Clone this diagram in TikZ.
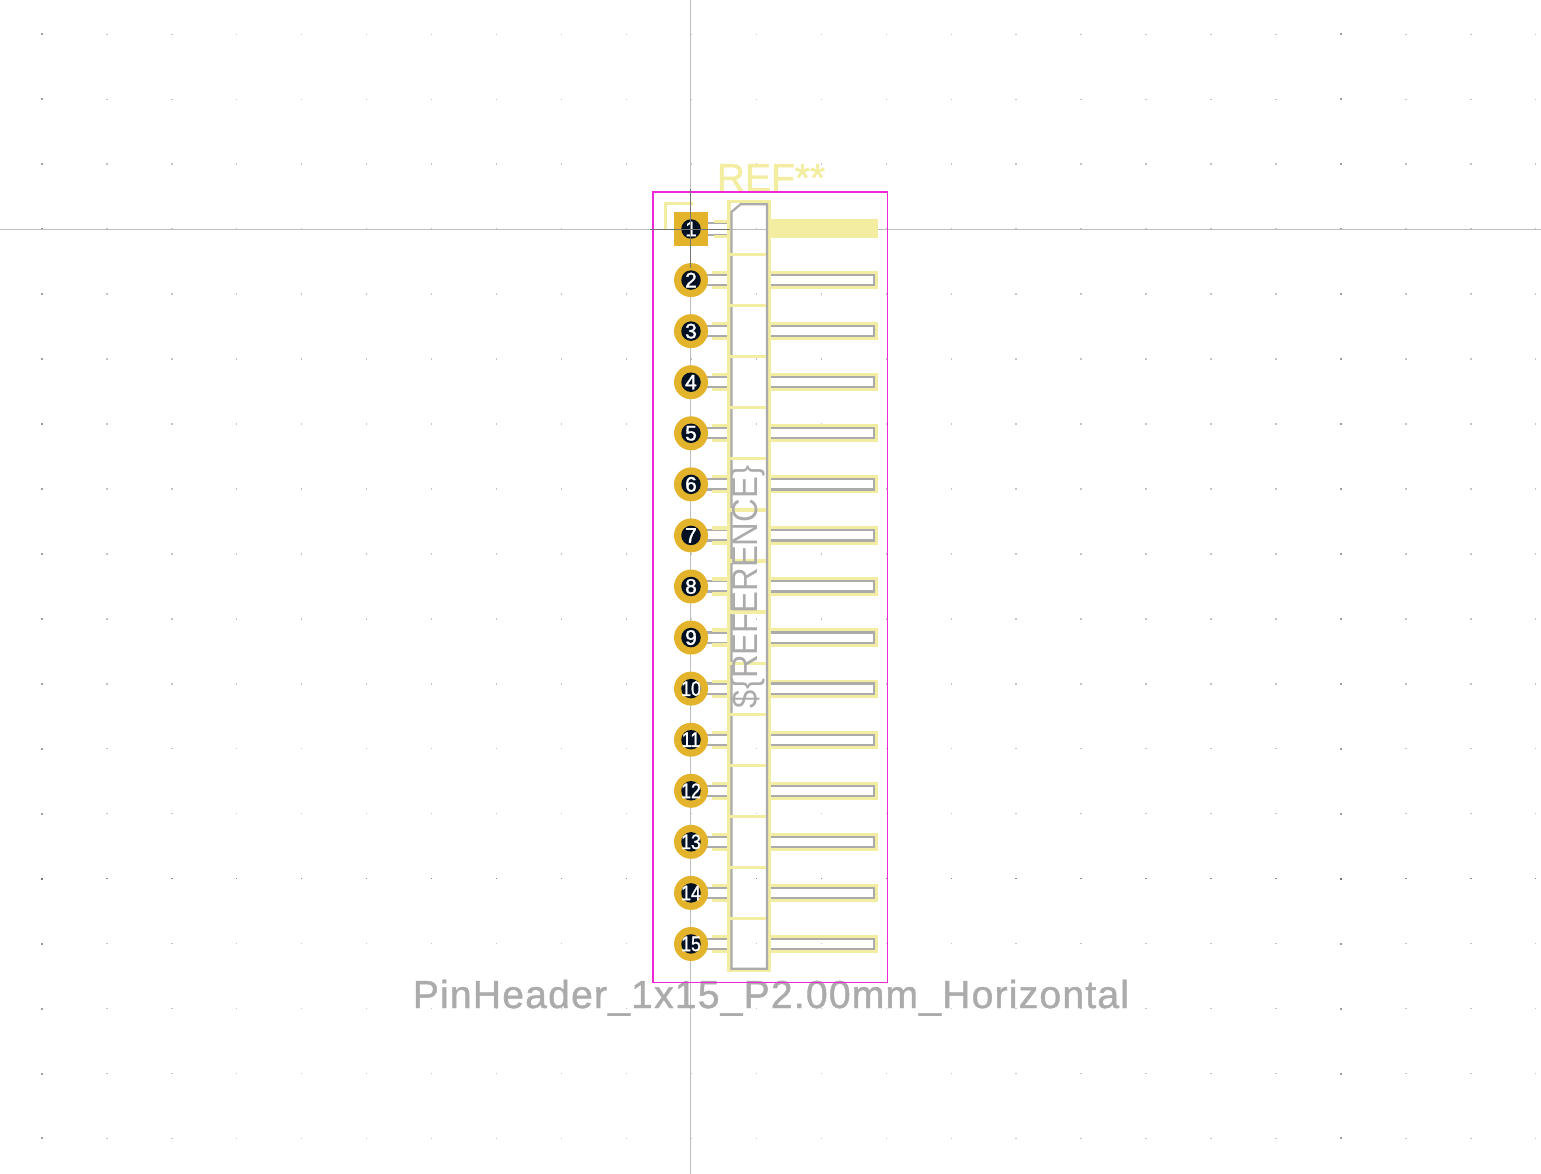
\documentclass[tikz,border=0pt]{standalone}
\usepackage{xcolor}
\usepackage{fontspec}
\usepackage{tikz}
\usetikzlibrary{positioning}
\usetikzlibrary{calc}
\setmainfont{Liberation Sans}
\newfontfamily\strokefont[LetterSpace=3.2,FakeBold=1.2]{Liberation Sans}
\newfontfamily\plainstroke[FakeBold=1.2]{Liberation Sans}
\newfontfamily\numfont[FakeBold=1.5]{Liberation Sans}
\definecolor{padgold}{RGB}{226,179,43}
\definecolor{holeblue}{RGB}{0,16,35}
\definecolor{silkyellow}{RGB}{242,237,161}
\definecolor{fabgrey}{RGB}{171,171,171}
\definecolor{courtpink}{RGB}{240,38,216}
\definecolor{axisgrey}{RGB}{190,190,190}
\definecolor{griddot}{RGB}{195,195,195}
\tikzset{
  silk/.style={draw=silkyellow,line width=3.2pt},
  fab/.style={draw=fabgrey,line width=2.2pt},
  padround/.style={circle,fill=padgold,minimum size=34pt,inner sep=0pt},
  padsquare/.style={rectangle,fill=padgold,minimum size=34pt,inner sep=0pt},
  holedot/.style={circle,fill=holeblue,minimum size=19.5pt,inner sep=0pt},
  padnum/.style={text=white,inner sep=0pt,font=\numfont\fontsize{21}{21}\selectfont},
}
\begin{document}
\begin{tikzpicture}[x=1pt,y=-1pt]
  \useasboundingbox (0,0) rectangle (1541,1174);
  % grid
  \foreach \c in {0,...,23}
    \foreach \r in {0,...,17}
      \fill[griddot] ({41.9+64.95*\c-0.7},{34.3+64.95*\r-0.7}) rectangle ++(1.4,1.4);
  \foreach \c in {0,20}
    \foreach \r in {0,...,17}
      \fill[griddot!80!black] ({41.9+64.95*\c-1},{34.3+64.95*\r-1}) rectangle ++(2,2);
  \foreach \c in {1,...,23}
    \fill[griddot!70!black] ({41.9+64.95*\c-0.7},{34.3+64.95*13-0.7}) rectangle ++(1.4,1.4);
  \foreach \c in {0,20}
    \fill[black!55] ({41.9+64.95*\c-1},{34.3+64.95*13-1}) rectangle ++(2,2);
  % axes
  \draw[axisgrey,line width=1pt] (690.5,0) -- (690.5,1174);
  \draw[axisgrey,line width=1pt] (0,229.5) -- (1541,229.5);
  % text on silk
  \node[text=silkyellow,font=\plainstroke\fontsize{39}{39}\selectfont,inner sep=0pt,anchor=base] (refdes) at (771,191) {REF**};
  % silk pin one mark
  \draw[silk] (665.5,229) -- (665.5,203.5) -- (692.5,203.5);
  % pins
  \foreach \i in {1,...,15} {
    \pgfmathsetmacro{\py}{229+51.07*(\i-1)}
    \ifnum\i=1
      \fill[silkyellow] (770,219) rectangle (878,238);
      \draw[fab] (706,\py-6.2) -- (730,\py-6.2);
      \draw[fab] (706,\py+6.2) -- (730,\py+6.2);
      \draw[silk] (714,\py-7.8) -- (728,\py-7.8);
      \draw[silk] (714,\py+7.8) -- (728,\py+7.8);
    \else
      \draw[fab] (706,\py-5.1) -- (730,\py-5.1);
      \draw[fab] (706,\py+5.1) -- (730,\py+5.1);
      \draw[silk] (712,\py-7.5) -- (728,\py-7.5);
      \draw[silk] (712,\py+7.5) -- (728,\py+7.5);
      \draw[silk] (770,\py-7.5) -- (876.4,\py-7.5) -- (876.4,\py+7.5) -- (770,\py+7.5);
      \draw[fab] (768,\py-5.1) -- (874.1,\py-5.1) -- (874.1,\py+5.1) -- (768,\py+5.1);
    \fi
  }
  % body
  \draw[silk] (729,201.7) -- (769.5,201.7) -- (769.5,970.8) -- (729,970.8) -- cycle;
  \draw[fab] (731.4,212) -- (740.5,204.3) -- (766.9,204.3) -- (766.9,968.8) -- (731.4,968.8) -- cycle;
  \foreach \i in {0,...,13}
    \draw[silk] (729,254.6+51.07*\i) -- (766,254.6+51.07*\i);
  % pads
  \node[padsquare] (pad1) at (691,229) {};
  \node[holedot] (hole1) at (691,229) {};
  \node[padnum] (num1) at (691,229) {1};
  \foreach \i in {2,...,9} {
    \pgfmathsetmacro{\py}{229+51.07*(\i-1)}
    \node[padround] (pad\i) at (691,\py) {};
    \node[holedot] (hole\i) at (691,\py) {};
    \node[padnum] (num\i) at (691,\py) {\i};
  }
  \foreach \i in {10,...,15} {
    \pgfmathsetmacro{\py}{229+51.07*(\i-1)}
    \node[padround] (pad\i) at (691,\py) {};
    \node[holedot] (hole\i) at (691,\py) {};
    \node[padnum] (num\i) at (691,\py) {\scalebox{0.85}[1]{\i}};
  }
  % text on fab
  \node[text=fabgrey,rotate=90,font=\fontsize{36}{36}\selectfont,inner sep=0pt] (reference) at (748,587) {\scalebox{0.91}[1]{\$\{REFERENCE\}}};
  \node[text=fabgrey,font=\strokefont\fontsize{39}{39}\selectfont,inner sep=0pt,anchor=base] (fpname) at (771,1008) {PinHeader\_1x15\_P2.00mm\_Horizontal};
  % courtyard
  \draw[courtpink,line width=1.2pt] (653,192) -- (887.5,192) -- (887.5,982.5) -- (653,982.5) -- cycle;
  % anchor
  \draw[black!55,line width=1pt] (690.5,189) -- (690.5,268);
  \draw[black!55,line width=1pt] (650,229.5) -- (730,229.5);
\end{tikzpicture}
\end{document}
